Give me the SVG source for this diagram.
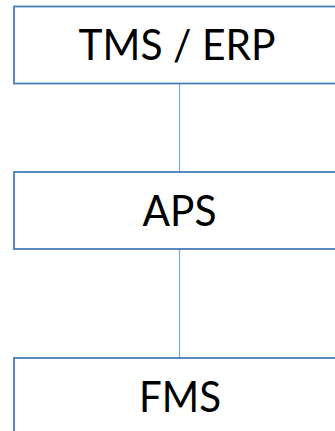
<svg xmlns="http://www.w3.org/2000/svg" width="335" height="431" viewBox="0 0 335 431">
<style>
.box{fill:#ffffff;stroke:#4a7ebb;stroke-width:1.8}
.lbl{font-family:"Lato","Open Sans","Liberation Sans",sans-serif;font-size:42px;fill:#000000;text-anchor:middle}
.conn{stroke:#7eaae0;stroke-width:1.2;fill:none}
</style>
<rect width="335" height="431" fill="#ffffff"/>
<g id="connectors">
<line class="conn" x1="179.5" y1="84" x2="179.5" y2="171.5"/>
<line class="conn" x1="179.5" y1="249" x2="179.5" y2="357.5"/>
</g>
<g id="tms-erp">
<rect class="box" x="14" y="6.5" width="340" height="77"/>
<text class="lbl" x="177" y="59.5" textLength="197" lengthAdjust="spacingAndGlyphs">TMS / ERP</text>
</g>
<g id="aps">
<rect class="box" x="14" y="172" width="340" height="77"/>
<text class="lbl" x="179.5" y="225.5" textLength="74" lengthAdjust="spacingAndGlyphs">APS</text>
</g>
<g id="fms">
<rect class="box" x="14" y="358" width="340" height="90"/>
<text class="lbl" x="180" y="411.7" textLength="82" lengthAdjust="spacingAndGlyphs">FMS</text>
</g>
</svg>
